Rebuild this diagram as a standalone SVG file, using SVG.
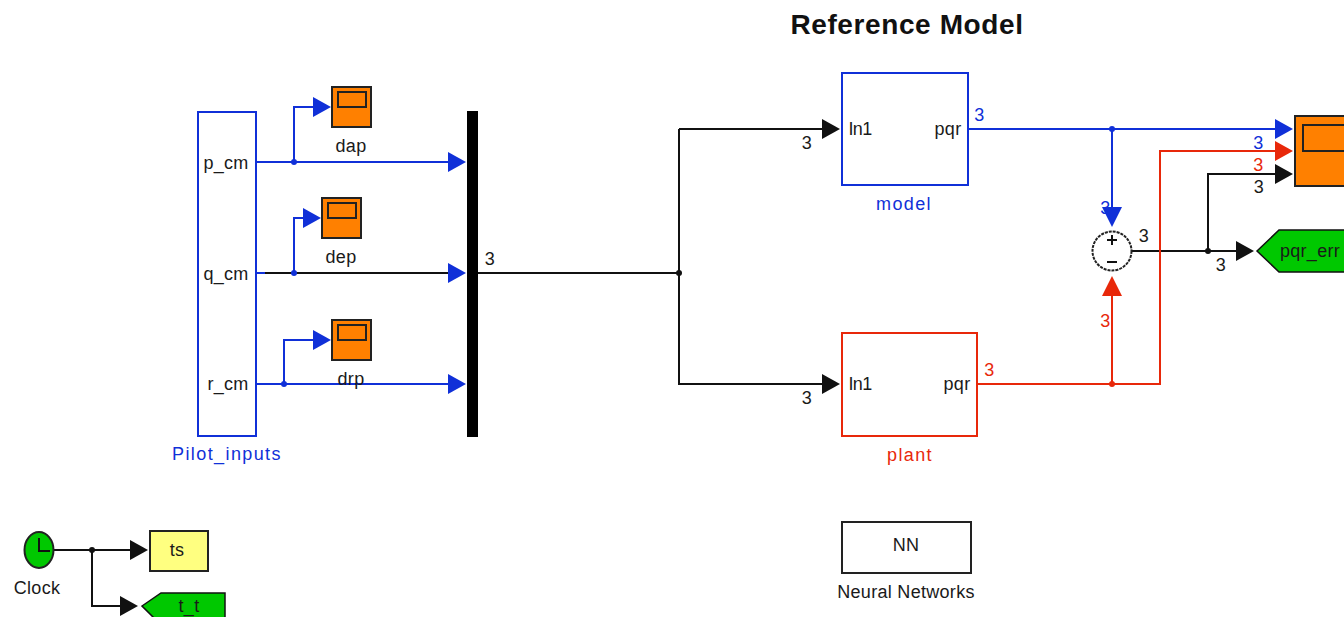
<svg xmlns="http://www.w3.org/2000/svg" width="1344" height="617" viewBox="0 0 1344 617">
<style>
text{font-family:"Liberation Sans",Arial,sans-serif;font-size:18px;fill:#1a1a1a;text-anchor:middle;letter-spacing:.3px}
.bl{fill:#1030d8;letter-spacing:1.4px}.rd{fill:#e8280a;letter-spacing:1.4px}
.in{letter-spacing:-.6px}
.w{fill:none;stroke-width:2}
.wb{stroke:#1030d8}.wr{stroke:#e8280a}.wk{stroke:#111}
.scope{fill:#ff8000;stroke:#222;stroke-width:2}
.scr{fill:none;stroke:#222;stroke-width:2}
.goto{fill:#00c800;stroke:#111;stroke-width:1.5}
</style>
<defs>
<path id="a" d="M-18-10L0 0L-18 10Z"/>
</defs>
<rect width="1344" height="617" fill="#fff"/>
<g id="connectors">
<g class="w wb">
<path d="M257 162H450M294 162V107H316"/>
<path d="M257 273H265M294 273V218H306"/>
<path d="M257 384H450M284 384V340H316"/>
<path d="M968 129H1278M1112 129V208"/>
</g>
<g class="w wk">
<path d="M265 273H450M478 273H679M679 129H824M679 129V384H824"/>
<path d="M1132 251H1238M1208 251V174H1278"/>
<path d="M54 550H132M92 550V606H122"/>
</g>
<g class="w wr">
<path d="M978 384H1160V151H1278M1112 384V296"/>
</g>
<g class="bl">
<use href="#a" x="331" y="107"/><use href="#a" x="321" y="218"/><use href="#a" x="331" y="340"/>
<use href="#a" x="466" y="162"/><use href="#a" x="466" y="273"/><use href="#a" x="466" y="384"/>
<use href="#a" x="1293" y="129"/>
<path d="M1102 207H1122L1112 227Z"/>
<circle cx="294" cy="162" r="3"/><circle cx="294" cy="273" r="3"/><circle cx="284" cy="384" r="3"/><circle cx="1112" cy="129" r="3"/>
</g>
<g fill="#111">
<use href="#a" x="840" y="129"/><use href="#a" x="840" y="384"/>
<use href="#a" x="1293" y="174"/><use href="#a" x="1254" y="251"/>
<use href="#a" x="148" y="550"/><use href="#a" x="138" y="606"/>
<circle cx="679" cy="273" r="3"/><circle cx="1208" cy="251" r="3"/><circle cx="92" cy="550" r="3"/>
</g>
<g class="rd">
<use href="#a" x="1293" y="151"/>
<path d="M1102 296H1122L1112 276Z"/>
<circle cx="1112" cy="384" r="3"/>
</g>
</g>
<g id="title"><text x="907" y="34" style="font-size:28px;font-weight:bold;fill:#111;letter-spacing:.6px">Reference Model</text></g>
<g id="pilot_inputs">
<rect x="198" y="112" width="58" height="324" fill="#fff" stroke="#1030d8" stroke-width="2"/>
<text x="226" y="169">p_cm</text><text x="226" y="280">q_cm</text><text x="228" y="390">r_cm</text>
<text x="227" y="460" class="bl">Pilot_inputs</text>
</g>
<g id="dap"><rect x="332" y="87" width="39" height="40" class="scope"/><rect x="338" y="92" width="28" height="15" class="scr"/><text x="351" y="152">dap</text></g>
<g id="dep"><rect x="322" y="198" width="39" height="40" class="scope"/><rect x="328" y="203" width="28" height="15" class="scr"/><text x="341" y="263">dep</text></g>
<g id="drp"><rect x="332" y="320" width="39" height="40" class="scope"/><rect x="338" y="325" width="28" height="15" class="scr"/><text x="351" y="385">drp</text></g>
<g id="mux"><rect x="467" y="111" width="11" height="326" fill="#000"/><text x="490" y="265">3</text></g>
<g id="model">
<rect x="842" y="73" width="126" height="112" fill="#fff" stroke="#1030d8" stroke-width="2"/>
<text x="860" y="135" class="in">In1</text><text x="948" y="135">pqr</text>
<text x="904" y="210" class="bl">model</text>
</g>
<g id="plant">
<rect x="842" y="333" width="135" height="103" fill="#fff" stroke="#e8280a" stroke-width="2"/>
<text x="860" y="390" class="in">In1</text><text x="957" y="390">pqr</text>
<text x="910" y="461" class="rd">plant</text>
</g>
<g id="sum">
<circle cx="1112" cy="251" r="19.500" fill="#fff" stroke="#222" stroke-width="2" stroke-dasharray="3 1"/>
<path d="M1107 240H1117M1112 235V245M1107 262H1117" stroke="#111" stroke-width="2" fill="none"/>
</g>
<g id="scope_out"><rect x="1295" y="116" width="55" height="70" class="scope"/><rect x="1303" y="125" width="50" height="26" class="scr"/></g>
<g id="pqr_err">
<path d="M1257 251L1279 230H1346V272H1279Z" class="goto"/>
<text x="1310" y="257">pqr_err</text>
</g>
<g id="signal_labels">
<text x="980" y="121" class="bl">3</text><text x="807" y="149">3</text><text x="807" y="404">3</text><text x="990" y="376" class="rd">3</text>
<text x="1106" y="327" class="rd">3</text><text x="1106" y="214" class="bl">3</text>
<text x="1144" y="242">3</text><text x="1221" y="271">3</text>
<text x="1259" y="149" class="bl">3</text><text x="1259" y="171" class="rd">3</text><text x="1259" y="193">3</text>
</g>
<g id="neural_networks">
<rect x="842" y="522" width="129" height="51" fill="#fff" stroke="#222" stroke-width="2"/>
<text x="906" y="551">NN</text><text x="906" y="598">Neural Networks</text>
</g>
<g id="clock">
<ellipse cx="39" cy="550" rx="14.500" ry="18" fill="#00c800" stroke="#222" stroke-width="2"/>
<path d="M39 538V551H50" fill="none" stroke="#111" stroke-width="2"/>
<text x="37" y="594">Clock</text>
</g>
<g id="ts"><rect x="150" y="531" width="58" height="40" fill="#ffff80" stroke="#222" stroke-width="2"/><text x="177" y="556">ts</text></g>
<g id="t_t"><path d="M142 606L161 593H225V625H161Z" class="goto"/><text x="189" y="612">t_t</text></g>
</svg>
